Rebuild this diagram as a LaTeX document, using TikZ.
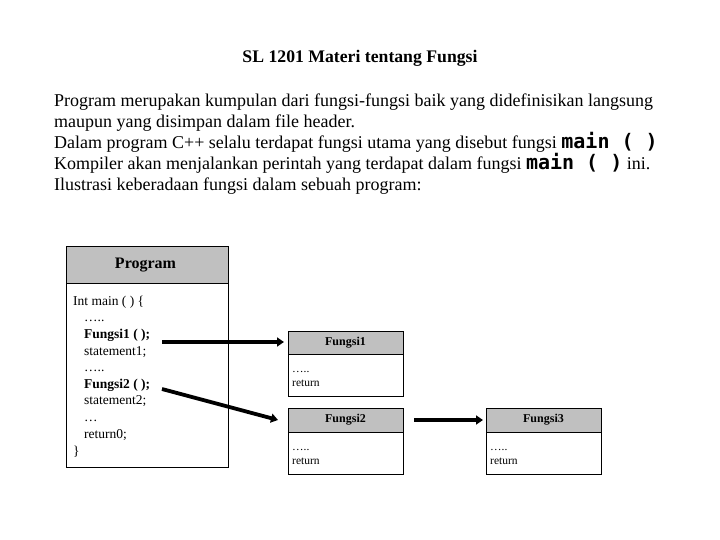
\documentclass[tikz,border=0pt]{standalone}
\usepackage{fontspec}
\setmainfont{Liberation Serif}
\newfontfamily\codefont{DejaVu Sans Mono}
\usetikzlibrary{arrows.meta}
\definecolor{hdr}{RGB}{192,192,192}
\tikzset{
  para/.style={anchor=base west, inner sep=0pt, font=\fontsize{18}{20}\selectfont},
  hbox/.style={draw=black, fill=hdr, line width=0.8pt},
  bbox/.style={draw=black, fill=white, line width=0.8pt},
  code/.style={anchor=base west, inner sep=0pt, font=\fontsize{13.5}{15}\selectfont},
  small/.style={anchor=base west, inner sep=0pt, font=\fontsize{11.5}{13}\selectfont},
  call/.style={line width=3.8pt, -{Triangle[length=7pt,width=9pt]}},
}
\newcommand{\mainf}{{\codefont\bfseries\fontsize{20}{22}\selectfont main ( )}}
\begin{document}
\begin{tikzpicture}[x=1pt,y=-1pt]
\useasboundingbox (0,0) rectangle (720,540);
% title
\node[anchor=base, inner sep=0pt, font=\bfseries\fontsize{17.7}{20}\selectfont] (title) at (360,63) {SL 1201 Materi tentang Fungsi};
% paragraph
\node[para] (l1) at (54,107) {Program merupakan kumpulan dari fungsi-fungsi baik yang didefinisikan langsung};
\node[para] (l2) at (54,128) {maupun yang disimpan dalam file header.};
\node[para] (l3) at (54,149) {Dalam program C++ selalu terdapat fungsi utama yang disebut fungsi \mainf};
\node[para] (l4) at (54,170) {Kompiler akan menjalankan perintah yang terdapat dalam fungsi \mainf\ ini.};
\node[para] (l5) at (54,191) {Ilustrasi keberadaan fungsi dalam sebuah program:};
% program box
\draw[hbox] (66,246) rectangle (228,283);
\draw[bbox] (66,283) rectangle (228,467);
\node[inner sep=0pt, font=\bfseries\fontsize{16}{18}\selectfont] (prog) at (145.5,265) {Program};
\node[code] (c0) at (73,305) {Int main ( ) \{};
\node[code] (c1) at (84,321) {\dots..};
\node[code] (c2) at (84,338) {\textbf{Fungsi1 ( );}};
\node[code] (c3) at (84,355) {statement1;};
\node[code] (c4) at (84,371) {\dots..};
\node[code] (c5) at (84,388) {\textbf{Fungsi2 ( );}};
\node[code] (c6) at (84,404) {statement2;};
\node[code] (c7) at (84,421) {\dots};
\node[code] (c8) at (84,438) {return0;};
\node[code] (c9) at (73,455) {\}};
% fungsi1
\draw[hbox] (288,331) rectangle (403,354);
\draw[bbox] (288,354) rectangle (403,396);
\node[inner sep=0pt, font=\bfseries\fontsize{12}{14}\selectfont] (f1) at (345.5,342.5) {Fungsi1};
\node[small] (f1a) at (292,372) {\dots..};
\node[small] (f1b) at (292,386) {return};
% fungsi2
\draw[hbox] (288,408) rectangle (403,432);
\draw[bbox] (288,432) rectangle (403,474);
\node[inner sep=0pt, font=\bfseries\fontsize{12}{14}\selectfont] (f2) at (345.5,420) {Fungsi2};
\node[small] (f2a) at (292,450) {\dots..};
\node[small] (f2b) at (292,464) {return};
% fungsi3
\draw[hbox] (486,408) rectangle (601,432);
\draw[bbox] (486,432) rectangle (601,474);
\node[inner sep=0pt, font=\bfseries\fontsize{12}{14}\selectfont] (f3) at (543.5,420) {Fungsi3};
\node[small] (f3a) at (490,450) {\dots..};
\node[small] (f3b) at (490,464) {return};
% connectors
\coordinate (s1) at (162,342);
\coordinate (e1) at (284,342);
\coordinate (s2) at (162,389);
\coordinate (e2) at (278,420);
\coordinate (s3) at (414,420);
\coordinate (e3) at (483,420);
\draw[call] (s1) -- (e1);
\draw[call] (s2) -- (e2);
\draw[call] (s3) -- (e3);
\end{tikzpicture}
\end{document}
